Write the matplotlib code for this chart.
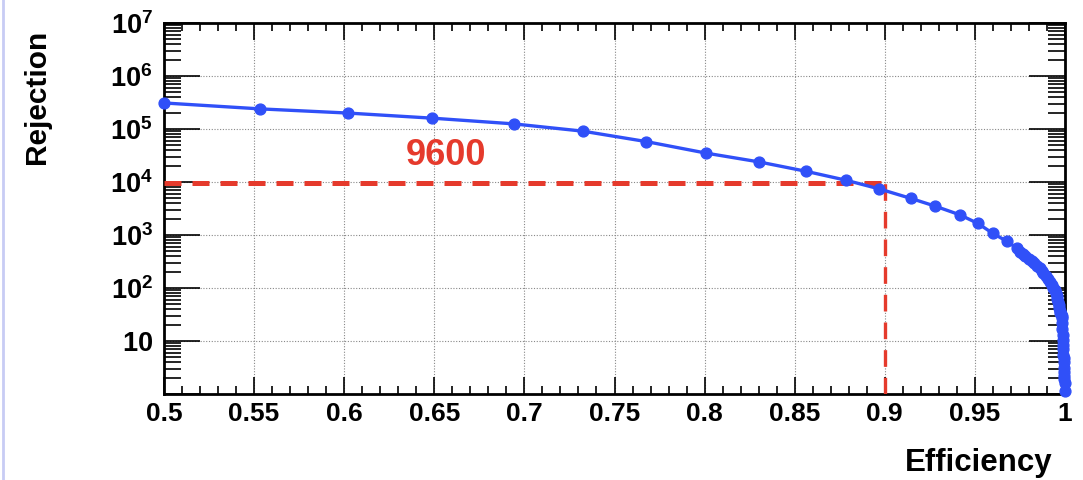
import matplotlib
matplotlib.use("Agg")
import matplotlib.pyplot as plt
from matplotlib.ticker import FixedLocator, FixedFormatter, MultipleLocator, LogLocator, NullFormatter

plt.rcParams['font.family'] = ['Liberation Sans', 'DejaVu Sans']
plt.rcParams['mathtext.fontset'] = 'custom'
plt.rcParams['mathtext.rm'] = 'Liberation Sans:bold'
plt.rcParams['mathtext.bf'] = 'Liberation Sans:bold'
plt.rcParams['mathtext.it'] = 'Liberation Sans:bold'

# Data
efficiency = [0.500, 0.553, 0.602, 0.649, 0.694, 0.7325, 0.7675, 0.801, 0.830, 0.856,
              0.8785, 0.897, 0.9145, 0.928, 0.9417, 0.9517, 0.960, 0.9678, 0.9734, 0.975,
              0.9765, 0.978, 0.980, 0.9815, 0.983, 0.9845, 0.986, 0.987, 0.988, 0.9895,
              0.9905, 0.9917, 0.9927, 0.9935, 0.9942, 0.9948, 0.9953, 0.9956, 0.9961, 0.9965,
              0.9969, 0.9972, 0.9975, 0.9978, 0.9981, 0.9983, 0.9985, 0.9986, 0.9987, 0.9988,
              0.9989, 0.9990, 0.9991, 0.9992, 0.9993, 0.9994, 0.9995, 0.9996, 0.9997, 0.9998,
              0.99995]
rejection = [3.1e5, 2.4e5, 2.0e5, 1.6e5, 1.25e5, 9.1e4, 5.8e4, 3.5e4, 2.4e4, 1.6e4,
             1.08e4, 7.4e3, 4.9e3, 3.5e3, 2.4e3, 1.65e3, 1.07e3, 760, 560, 484,
             440, 400, 355, 320, 290, 262, 235, 210, 190, 165,
             148, 132, 115, 100, 90, 80, 70, 63, 55, 48,
             42, 37, 34, 32, 29, 27, 22, 17, 13, 10.5,
             8.4, 7.0, 5.5, 4.7, 4.0, 3.1, 2.6, 2.2, 1.9, 1.6,
             1.15]
marked_eff = 0.9
marked_rej = 9600
marked_label = "9600"

xticks = [0.5, 0.55, 0.6, 0.65, 0.7, 0.75, 0.8, 0.85, 0.9, 0.95, 1.0]
xticklabels = ["0.5", "0.55", "0.6", "0.65", "0.7", "0.75", "0.8", "0.85", "0.9", "0.95", "1"]
yticks = [1, 10, 1e2, 1e3, 1e4, 1e5, 1e6, 1e7]
yticklabels = ["", r"$10$", r"$10^{2}$", r"$10^{3}$", r"$10^{4}$", r"$10^{5}$", r"$10^{6}$", r"$10^{7}$"]

fig = plt.figure(figsize=(10.83, 4.80), dpi=100)
ax = fig.add_axes([164/1083, 1-394/480, (1065-164)/1083, (394-23)/480])

blue = "#3050f8"
red = "#e53a2c"

ax.plot(efficiency, rejection, color=blue, lw=2.4, marker='o', ms=7.8, zorder=4,
        clip_on=False)
ax.plot([0.5, marked_eff], [marked_rej, marked_rej], color=red, lw=3.6,
        linestyle=(0, (3.4, 2.2)), zorder=3)
ax.plot([marked_eff, marked_eff], [1, marked_rej], color=red, lw=2.4,
        linestyle=(0, (5, 3.3)), zorder=3)
ax.text(0.6565, 1.45e4, marked_label, color=red, fontsize=26,
        fontweight='bold', ha='center', va='bottom')

ax.set_yscale('log')
ax.set_xlim(0.5, 1.0)
ax.set_ylim(1, 1e7)

ax.xaxis.set_major_locator(FixedLocator(xticks))
ax.xaxis.set_major_formatter(FixedFormatter(xticklabels))
ax.xaxis.set_minor_locator(MultipleLocator(0.01))
ax.yaxis.set_major_locator(FixedLocator(yticks))
ax.yaxis.set_major_formatter(FixedFormatter(yticklabels))
ax.yaxis.set_minor_locator(LogLocator(base=10, subs=range(2, 10), numticks=20))
ax.yaxis.set_minor_formatter(NullFormatter())

ax.tick_params(axis='both', which='both', direction='in', top=True, right=True, width=1.2)
ax.tick_params(axis='x', which='major', length=12, labelsize=19, pad=6)
ax.tick_params(axis='x', which='minor', length=6)
ax.tick_params(axis='y', which='major', length=26, labelsize=19.5, pad=8)
ax.tick_params(axis='y', which='minor', length=12)
for lab in ax.get_xticklabels():
    lab.set_fontweight('bold')

for s in ax.spines.values():
    s.set_linewidth(2)

ax.grid(True, which='major', linestyle=(0, (1, 1.5)), color='#888888', lw=0.8)

fig.text(905/1083, 1-463/480, "Efficiency", fontsize=22.5, fontweight='bold', ha='left', va='center')
fig.text(37/1083, 1-97/480, "Rejection", fontsize=21.5, fontweight='bold', ha='center', va='center',
         rotation=90)
fig.add_artist(plt.Line2D([3/1083, 3/1083], [0, 1], color='#c8ccf4', lw=2, transform=fig.transFigure))

fig.savefig("out.png", dpi=100)
